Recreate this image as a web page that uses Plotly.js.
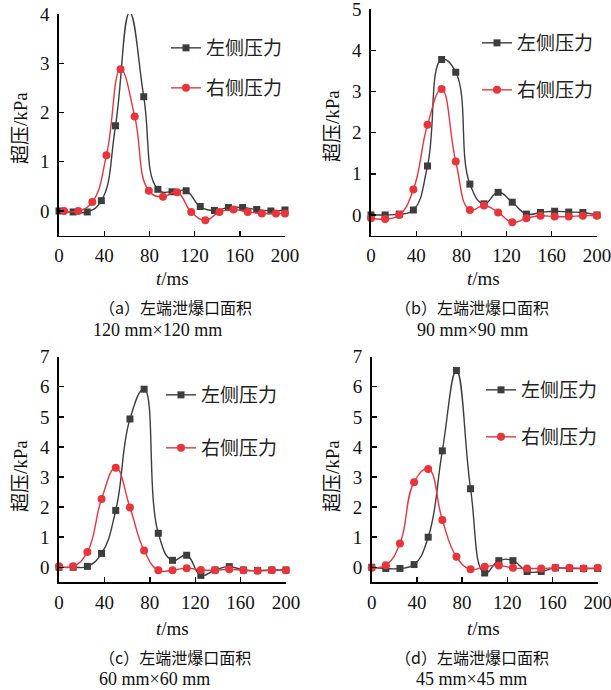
<!DOCTYPE html>
<html>
<head>
<meta charset="utf-8">
<script src="https://cdn.plot.ly/plotly-3.0.1.min.js"></script>
<style>html,body{margin:0;padding:0;background:#fff;}#chart{width:611px;height:690px;}</style>
</head>
<body>
<div id="chart"></div>
<script>
// ---- data ----
const tStd = [0,12.5,25,37.5,50,62.5,75,87.5,100,112.5,125,137.5,150,162.5,175,187.5,200];
const tRedA = [4.5,17,29.5,42,54.5,67,79.5,92,104.5,117,129.5,142,154.5,167,179.5,192,200];

const leftA  = [0,-0.02,-0.02,0.21,1.73,4.03,2.32,0.44,0.39,0.41,0.09,0.01,0.07,0.07,0.03,0,0.02];
const rightA = [0,0,0.18,1.13,2.88,1.92,0.41,0.29,0.38,-0.02,-0.19,-0.02,0.03,-0.02,-0.05,-0.05,-0.05];

const leftB  = [0,0,0.02,0.12,1.19,3.78,3.47,0.75,0.27,0.55,0.31,0.02,0.06,0.09,0.07,0.06,0];
const rightB = [-0.08,-0.1,0,0.62,2.19,3.06,1.30,0.12,0.23,0.06,-0.18,-0.08,-0.02,-0.04,-0.04,-0.02,-0.02];

const leftC  = [0,0,0.03,0.46,1.89,4.93,5.92,1.13,0.23,0.40,-0.27,-0.09,0.02,-0.09,-0.11,-0.09,-0.09];
const rightC = [0.03,0.03,0.51,2.27,3.31,1.99,0.56,-0.1,-0.1,-0.03,-0.09,-0.1,-0.07,-0.1,-0.12,-0.1,-0.1];

const leftD  = [0,-0.04,-0.04,0.09,1.0,3.87,6.54,2.61,-0.19,0.22,0.22,-0.14,-0.14,-0.02,-0.04,-0.04,-0.04];
const rightD = [-0.02,0.07,0.79,2.83,3.27,1.57,0.35,-0.07,0.02,0.06,-0.02,-0.04,-0.04,-0.02,-0.02,-0.04,-0.02];

const seriesNames = ['左侧压力','右侧压力'];
const xTitle = '<i>t</i>/ms';
const yTitle = '超压/kPa';
const captions1 = ['（a）左端泄爆口面积','（b）左端泄爆口面积','（c）左端泄爆口面积','（d）左端泄爆口面积'];
const captions2 = ['120 mm×120 mm','90 mm×90 mm','60 mm×60 mm','45 mm×45 mm'];
const yMax = [4,5,7,7];

// ---- styling ----
const W = 611, H = 690;
const BLACK = '#3d3d3d', RED = '#e8353b';
const SERIF = 'Liberation Serif, Times New Roman, serif';
const CJK = 'Liberation Serif, Noto Sans CJK SC, serif';

const panels = [
  {tl: tStd, l: leftA, tr: tRedA, r: rightA},
  {tl: tStd, l: leftB, tr: tStd, r: rightB},
  {tl: tStd, l: leftC, tr: tStd, r: rightC},
  {tl: tStd, l: leftD, tr: tStd, r: rightD}
];
// pixel boxes [x0,x1,yTop,yBottom]
const boxes = [
  [59, 285, 14, 235.6],
  [371, 597, 9.3, 235.5],
  [59, 286, 356.7, 582.3],
  [371.7, 597.7, 356.7, 582.3]
];
const legendPos = [ // [left px, black y, red y]
  [166, 48, 88],
  [477, 43, 90],
  [161, 395, 448],
  [481, 390, 437]
];
const yTitlePos = [[20,128],[332,126],[20,476],[332,476]];
const xTitlePos = [[172,278],[483,278],[172,628],[483,628]];
const cap1Pos = [[175,307],[472,307],[175,657],[472,657]];
const cap2Pos = [[157,330],[472,330],[154,679],[471,679]];

const px = v => v / W;
const py = v => 1 - v / H;

const traces = [];
const layout = {
  width: W, height: H,
  margin: {l:0, r:0, t:0, b:0},
  paper_bgcolor: '#fff', plot_bgcolor: '#fff',
  showlegend: true,
  annotations: []
};

panels.forEach((p, i) => {
  const n = i === 0 ? '' : String(i + 1);
  const xa = 'x' + n, ya = 'y' + n;
  const lg1 = 'legend' + (i === 0 ? '' : String(2 * i + 1));
  const lg2 = 'legend' + String(2 * i + 2);
  traces.push({
    x: p.tl, y: p.l, xaxis: xa, yaxis: ya, name: seriesNames[0],
    type: 'scatter', mode: 'lines+markers', legend: lg1,
    line: {color: BLACK, width: 1.4, shape: 'spline', smoothing: 1.3},
    marker: {symbol: 'square', size: 7, color: BLACK},
    cliponaxis: false
  });
  traces.push({
    x: p.tr, y: p.r, xaxis: xa, yaxis: ya, name: seriesNames[1],
    type: 'scatter', mode: 'lines+markers', legend: lg2,
    line: {color: RED, width: 1.4, shape: 'spline', smoothing: 1.3},
    marker: {symbol: 'circle', size: 8, color: RED},
    cliponaxis: false
  });
  const b = boxes[i];
  const axCommon = {
    showline: true, linecolor: '#000', linewidth: 1.6,
    ticks: 'inside', ticklen: 5, tickwidth: 1.4, tickcolor: '#000',
    showgrid: false, zeroline: false, ticklabeloverflow: 'allow',
    tickfont: {family: SERIF, size: 19, color: '#111'}
  };
  layout['xaxis' + n] = Object.assign({}, axCommon, {
    domain: [px(b[0]), px(b[1])], range: [0, 200], dtick: 40, tick0: 0,
    anchor: ya, ticklabelstandoff: 2
  });
  layout['yaxis' + n] = Object.assign({}, axCommon, {
    domain: [py(b[3]), py(b[2])], range: [-0.5, yMax[i]], dtick: 1, tick0: 0,
    anchor: xa, ticklabelstandoff: 4
  });
  const lp = legendPos[i];
  const legCfg = (yy) => ({
    x: px(lp[0]), y: py(yy), xanchor: 'left', yanchor: 'middle',
    bgcolor: 'rgba(0,0,0,0)', borderwidth: 0,
    font: {family: 'Noto Sans CJK SC', size: 19, color: '#222'},
    itemwidth: 30, tracegroupgap: 0
  });
  layout[lg1] = legCfg(lp[1]);
  layout[lg2] = legCfg(lp[2]);

  const ann = (text, pos, font, extra) => Object.assign({
    text, x: px(pos[0]), y: py(pos[1]), xref: 'paper', yref: 'paper',
    xanchor: 'center', yanchor: 'middle', showarrow: false, font
  }, extra || {});
  layout.annotations.push(ann(yTitle, yTitlePos[i], {family: CJK, size: 19, color: '#111'}, {textangle: -90}));
  layout.annotations.push(ann(xTitle, xTitlePos[i], {family: SERIF, size: 19, color: '#111'}));
  layout.annotations.push(ann(captions1[i], cap1Pos[i], {family: 'Noto Sans CJK SC', size: 16, color: '#111'}));
  layout.annotations.push(ann(captions2[i], cap2Pos[i], {family: SERIF, size: 18, color: '#111'}));
});

Plotly.newPlot('chart', traces, layout, {displayModeBar: false, staticPlot: true});
</script>
</body>
</html>
